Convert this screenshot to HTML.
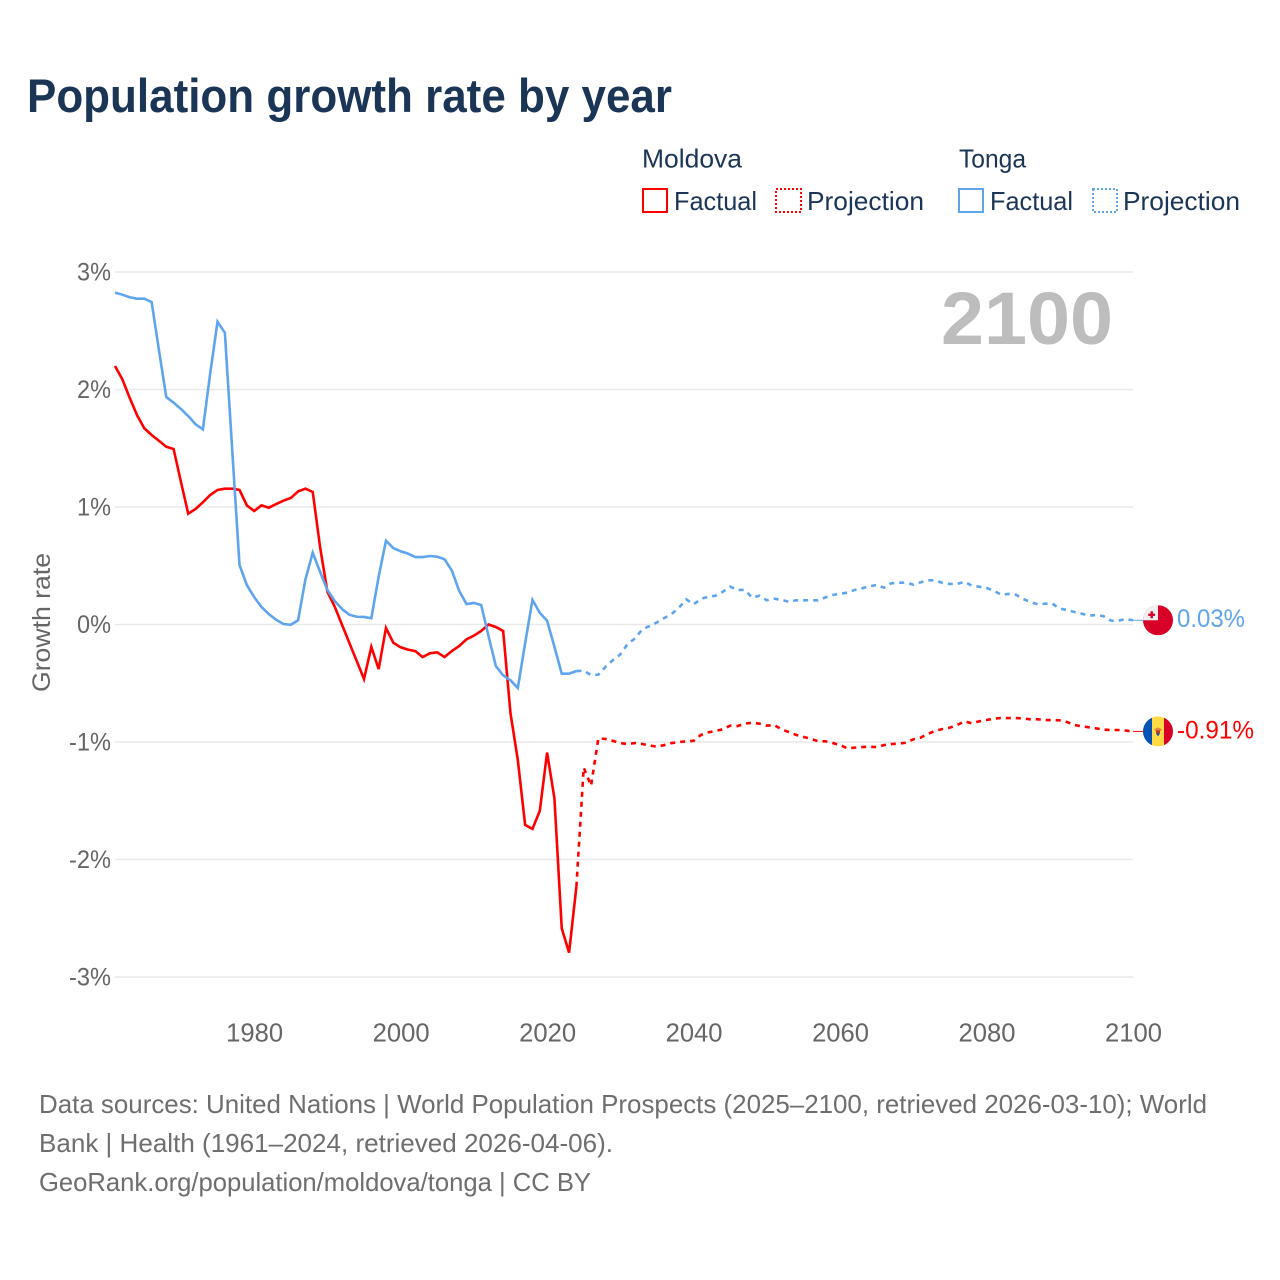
<!DOCTYPE html>
<html lang="en">
<head>
<meta charset="utf-8">
<title>Population growth rate by year</title>
<style>
html,body{margin:0;padding:0;background:#fff;width:1280px;height:1280px;overflow:hidden}
svg{display:block;font-family:"Liberation Sans",sans-serif}
</style>
</head>
<body>
<svg id="chart" xmlns="http://www.w3.org/2000/svg" width="1280" height="1280" viewBox="0 0 1280 1280">
<rect x="0" y="0" width="1280" height="1280" fill="#ffffff"/>
<text x="27" y="112" font-size="47" font-weight="700" fill="#1a3556" textLength="645" lengthAdjust="spacingAndGlyphs">Population growth rate by year</text>

<g font-size="26" fill="#1a3556">
<text x="642" y="167.5" textLength="100" lengthAdjust="spacingAndGlyphs">Moldova</text>
<text x="959" y="167.5" textLength="67" lengthAdjust="spacingAndGlyphs">Tonga</text>
<rect x="643" y="189" width="24" height="23" fill="none" stroke="#ff0000" stroke-width="2"/>
<text x="674" y="210" textLength="83" lengthAdjust="spacingAndGlyphs">Factual</text>
<rect x="776" y="189" width="25" height="23" fill="none" stroke="#ff0000" stroke-width="2" stroke-dasharray="2 2"/>
<text x="807" y="210" textLength="117" lengthAdjust="spacingAndGlyphs">Projection</text>
<rect x="959" y="189" width="24" height="23" fill="none" stroke="#5ea5ee" stroke-width="2"/>
<text x="990" y="210" textLength="83" lengthAdjust="spacingAndGlyphs">Factual</text>
<rect x="1093" y="189" width="24" height="23" fill="none" stroke="#5ea5ee" stroke-width="2" stroke-dasharray="2 2"/>
<text x="1123" y="210" textLength="117" lengthAdjust="spacingAndGlyphs">Projection</text>
</g>

<g id="grid"></g>
<g id="yticks" font-size="25" fill="#666666" text-anchor="end"></g>
<g id="xticks" font-size="25.6" fill="#666666" text-anchor="middle"></g>

<text transform="translate(50 622.5) rotate(-90)" text-anchor="middle" font-size="25" fill="#666666" textLength="139" lengthAdjust="spacingAndGlyphs">Growth rate</text>
<text x="1113" y="344" text-anchor="end" font-size="74" font-weight="700" fill="#bdbdbd" textLength="172" lengthAdjust="spacingAndGlyphs">2100</text>

<g id="series"></g>

<g id="flag-tonga">
<clipPath id="clip-tonga"><circle cx="0" cy="0" r="15"/></clipPath>
<g clip-path="url(#clip-tonga)">
<rect x="-15" y="-15" width="30" height="30" fill="#d80027"/>
<rect x="-15" y="-15" width="15" height="15" fill="#f0f0f0"/>
<rect x="-7.5" y="-9" width="2.4" height="7" fill="#d80027"/>
<rect x="-9.7" y="-6.7" width="6.8" height="2.4" fill="#d80027"/>
</g>
</g>
<g id="flag-moldova">
<clipPath id="clip-moldova"><circle cx="0" cy="0" r="15"/></clipPath>
<g clip-path="url(#clip-moldova)">
<rect x="-15" y="-15" width="30" height="30" fill="#ffda44"/>
<rect x="-15" y="-15" width="9" height="30" fill="#0052b4"/>
<rect x="6" y="-15" width="9" height="30" fill="#d80027"/>
<path d="M-4 -2 L0 -4 L4 -2 L2 0 L-2 0 Z" fill="#e2863a"/>
<rect x="-2" y="-1" width="4" height="3" fill="#c0392b"/>
<path d="M-2 2 L2 2 L0 5 Z" fill="#0052b4"/>
</g>
</g>
<text id="end-label-tonga" x="1177" font-size="25" fill="#5ea5ee" textLength="68" lengthAdjust="spacingAndGlyphs"></text>
<text id="end-label-moldova" x="1177" font-size="25" fill="#ff0000" textLength="77" lengthAdjust="spacingAndGlyphs"></text>

<g font-size="26" fill="#6e6e6e">
<text x="39" y="1113" textLength="1168" lengthAdjust="spacingAndGlyphs">Data sources: United Nations | World Population Prospects (2025–2100, retrieved 2026-03-10); World</text>
<text x="39" y="1152" textLength="574" lengthAdjust="spacingAndGlyphs">Bank | Health (1961–2024, retrieved 2026-04-06).</text>
<text x="39" y="1191" textLength="552" lengthAdjust="spacingAndGlyphs">GeoRank.org/population/moldova/tonga | CC BY</text>
</g>
</svg>

<script>
const firstYear = 1961;
const lastFactualYear = 2024;
const xTickYears = [1980, 2000, 2020, 2040, 2060, 2080, 2100];
const yTickValues = [3, 2, 1, 0, -1, -2, -3];
const yTickLabels = ["3%", "2%", "1%", "0%", "-1%", "-2%", "-3%"];

// Growth rate in %, 1961–2024
const moldovaFactual = [
 2.2,2.087,1.93,1.783,1.67,1.613,1.564,1.513,1.494,1.215,
 0.943,0.983,1.04,1.102,1.145,1.156,1.156,1.145,1.014,0.966,
 1.014,0.994,1.025,1.054,1.077,1.133,1.156,1.128,0.66,0.279,
 0.152,-0.003,-0.157,-0.31,-0.464,-0.19,-0.38,-0.03,-0.155,-0.194,
 -0.214,-0.226,-0.277,-0.245,-0.237,-0.277,-0.226,-0.183,-0.126,-0.095,
 -0.055,0.0,-0.021,-0.055,-0.755,-1.153,-1.706,-1.74,-1.587,-1.09,
 -1.479,-2.586,-2.793,-2.231
];
// Growth rate in %, 2025–2100
const moldovaProjection = [
 -1.218,-1.372,-0.969,-0.974,-0.991,-1.009,-1.017,-1.009,-1.017,-1.03,
 -1.04,-1.026,-1.009,-1.0,-0.994,-0.99,-0.94,-0.918,-0.906,-0.892,
 -0.861,-0.864,-0.844,-0.836,-0.844,-0.861,-0.855,-0.892,-0.915,-0.94,
 -0.957,-0.972,-0.994,-0.994,-1.009,-1.026,-1.054,-1.048,-1.043,-1.04,
 -1.043,-1.026,-1.017,-1.014,-1.006,-0.977,-0.963,-0.93,-0.906,-0.889,
 -0.878,-0.855,-0.824,-0.841,-0.824,-0.813,-0.801,-0.796,-0.796,-0.796,
 -0.8,-0.807,-0.807,-0.813,-0.813,-0.816,-0.83,-0.855,-0.867,-0.875,
 -0.884,-0.895,-0.898,-0.898,-0.903,-0.91
];
// Growth rate in %, 1961–2024
const tongaFactual = [
 2.824,2.807,2.785,2.773,2.773,2.745,2.336,1.936,1.888,1.834,
 1.774,1.704,1.661,2.138,2.577,2.483,1.49,0.507,0.336,0.234,
 0.149,0.089,0.04,0.004,-0.002,0.036,0.384,0.611,0.449,0.294,
 0.2,0.132,0.083,0.066,0.064,0.053,0.407,0.713,0.651,0.623,
 0.603,0.574,0.574,0.583,0.577,0.555,0.458,0.285,0.174,0.183,
 0.166,-0.098,-0.353,-0.433,-0.475,-0.54,-0.16,0.209,0.1,0.032,
 -0.189,-0.419,-0.419,-0.396
];
// Growth rate in %, 2025–2100
const tongaProjection = [
 -0.393,-0.43,-0.427,-0.359,-0.302,-0.254,-0.166,-0.118,-0.041,-0.013,
 0.018,0.055,0.089,0.143,0.214,0.172,0.217,0.237,0.245,0.279,
 0.322,0.294,0.294,0.228,0.245,0.206,0.22,0.209,0.194,0.206,
 0.206,0.206,0.206,0.231,0.251,0.262,0.271,0.294,0.308,0.325,
 0.336,0.313,0.351,0.356,0.356,0.339,0.359,0.376,0.376,0.353,
 0.345,0.345,0.364,0.33,0.322,0.311,0.288,0.254,0.26,0.254,
 0.217,0.191,0.172,0.177,0.177,0.135,0.123,0.106,0.092,0.075,
 0.081,0.07,0.032,0.032,0.047,0.036
];
const moldovaEndLabel = "-0.91%";
const tongaEndLabel = "0.03%";

const NS = "http://www.w3.org/2000/svg";
const plotLeft = 115, plotRight = 1133;
const yearMax = 2100;
function xScale(year) {
  return plotLeft + (year - firstYear) * (plotRight - plotLeft) / (yearMax - firstYear);
}
function yScale(value) {
  return 624.5 - value * 117.5;
}
function pointsFrom(values, startYear) {
  return values.map(function (v, i) {
    return xScale(startYear + i).toFixed(2) + "," + yScale(v).toFixed(2);
  }).join(" ");
}

const gridGroup = document.getElementById("grid");
const yTickGroup = document.getElementById("yticks");
yTickValues.forEach(function (v, i) {
  const line = document.createElementNS(NS, "line");
  
  
  line.setAttribute("x1", plotLeft);
  line.setAttribute("x2", plotRight);
  line.setAttribute("y1", yScale(v));
  line.setAttribute("y2", yScale(v));
  line.setAttribute("stroke", "#e9e9e9");
  line.setAttribute("stroke-width", "1.5");
  gridGroup.appendChild(line);

  const label = document.createElementNS(NS, "text");
  
  
  label.setAttribute("x", 111);
  label.setAttribute("y", yScale(v) + 8.5);
  label.setAttribute("textLength", v < 0 ? 42 : 34);
  label.setAttribute("lengthAdjust", "spacingAndGlyphs");
  label.textContent = yTickLabels[i];
  yTickGroup.appendChild(label);
});

const xTickGroup = document.getElementById("xticks");
xTickYears.forEach(function (year) {
  const label = document.createElementNS(NS, "text");
  
  
  label.setAttribute("x", xScale(year) + 0.5);
  label.setAttribute("y", 1041.5);
  label.textContent = String(year);
  xTickGroup.appendChild(label);
});

const seriesGroup = document.getElementById("series");
function addLine(name, points, color, dash) {
  const line = document.createElementNS(NS, "polyline");
  
  
  line.setAttribute("points", points);
  line.setAttribute("fill", "none");
  line.setAttribute("stroke", color);
  line.setAttribute("stroke-width", "2.6");
  line.setAttribute("stroke-linejoin", "miter");
  if (dash) line.setAttribute("stroke-dasharray", dash);
  seriesGroup.appendChild(line);
}
const moldovaColor = "#ff0000";
const tongaColor = "#5ea5ee";
const dashPattern = "5 5";
const moldovaLastFactual = moldovaFactual[moldovaFactual.length - 1];
const tongaLastFactual = tongaFactual[tongaFactual.length - 1];
addLine('moldova-factual-line', pointsFrom(moldovaFactual, firstYear), moldovaColor);
addLine('tonga-factual-line', pointsFrom(tongaFactual, firstYear), tongaColor);
addLine('moldova-projection-line', pointsFrom([moldovaLastFactual].concat(moldovaProjection), lastFactualYear), moldovaColor, dashPattern);
addLine('tonga-projection-line', pointsFrom([tongaLastFactual].concat(tongaProjection), lastFactualYear), tongaColor, dashPattern);

function addLeader(name, value, color) {
  const leader = document.createElementNS(NS, "line");
  
  
  leader.setAttribute("x1", plotRight);
  leader.setAttribute("x2", 1143);
  leader.setAttribute("y1", yScale(value));
  leader.setAttribute("y2", yScale(value));
  leader.setAttribute("stroke", color);
  leader.setAttribute("stroke-width", "1");
  seriesGroup.appendChild(leader);
}
const moldovaEnd = moldovaProjection[moldovaProjection.length - 1];
const tongaEnd = tongaProjection[tongaProjection.length - 1];
addLeader('moldova-leader-line', moldovaEnd, moldovaColor);
addLeader('tonga-leader-line', tongaEnd, tongaColor);

document.getElementById("flag-tonga").setAttribute("transform", "translate(1158 " + yScale(tongaEnd) + ")");
document.getElementById("flag-moldova").setAttribute("transform", "translate(1158 " + yScale(moldovaEnd) + ")");
const tongaLabel = document.getElementById("end-label-tonga");
tongaLabel.setAttribute("y", yScale(tongaEnd) + 6.5);
tongaLabel.textContent = tongaEndLabel;
const moldovaLabel = document.getElementById("end-label-moldova");
moldovaLabel.setAttribute("y", yScale(moldovaEnd) + 7);
moldovaLabel.textContent = moldovaEndLabel;
</script>
</body>
</html>
